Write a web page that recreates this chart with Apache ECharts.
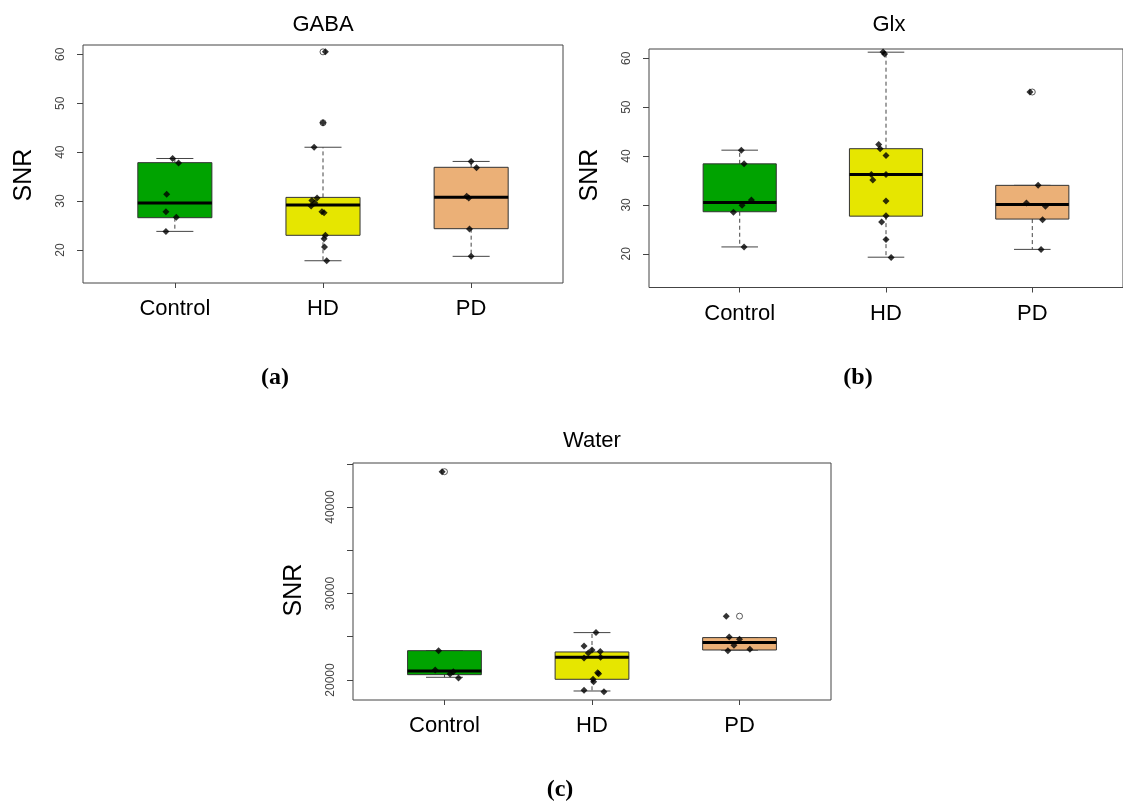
<!DOCTYPE html>
<html>
<head>
<meta charset="utf-8">
<script src="https://cdn.jsdelivr.net/npm/echarts@6/dist/echarts.min.js"></script>
<style>
  html, body { margin: 0; padding: 0; background: #fff; }
  #chart { width: 1123px; height: 807px; }
</style>
</head>
<body>
<div id="chart"></div>
<script>
// groups on the x axis
const groups = ["Control", "HD", "PD"];
const boxColors = ["#00A300", "#E6E600", "#EBB077"];

// GABA: box stats per group [low whisker, Q1, median, Q3, high whisker]
const gabaStats = [
  [23.8, 26.6, 29.6, 37.85, 38.7],
  [17.8, 23.0, 29.2, 30.75, 41.0],
  [18.7, 24.35, 30.8, 36.9, 38.1],
];
const gabaOutliers = [[], [60.5, 46.0], []];
const gabaPoints = [
  [38.7, 37.8, 31.4, 27.8, 26.7, 23.8],
  [60.5, 46.0, 41.0, 30.6, 30.1, 29.6, 29.0, 27.8, 27.6, 23.0, 22.3, 20.6, 17.8],
  [38.1, 36.8, 31.0, 30.6, 24.3, 18.7],
];
// horizontal jitter of each point, in category units
const gabaJitter = [
  [-0.015, 0.025, -0.055, -0.06, 0.01, -0.06],
  [0.016, 0, -0.06, -0.04, -0.075, -0.055, -0.08, -0.007, 0.007, 0.016, 0.007, 0.01, 0.025],
  [0, 0.036, -0.03, -0.016, -0.011, 0],
];

// Glx
const glxStats = [
  [21.4, 28.6, 30.5, 38.4, 41.2],
  [19.3, 27.7, 36.2, 41.5, 61.25],
  [20.9, 27.1, 30.1, 34.0, 34.0],
];
const glxOutliers = [[], [], [53.1]];
const glxPoints = [
  [41.2, 38.4, 31.0, 29.95, 28.5, 21.4],
  [61.3, 60.9, 42.35, 41.5, 40.1, 36.2, 36.2, 35.1, 30.8, 27.8, 26.5, 22.9, 19.25],
  [53.1, 34.0, 30.4, 29.75, 26.95, 20.9],
];
const glxJitter = [
  [0.011, 0.03, 0.08, 0.016, -0.043, 0.03],
  [-0.02, -0.01, -0.05, -0.04, 0, -0.1, 0, -0.09, 0, 0, -0.03, 0, 0.035],
  [-0.016, 0.04, -0.04, 0.09, 0.07, 0.06],
];

// Water
const waterStats = [
  [20310, 20615, 21040, 23390, 23390],
  [18726, 20080, 22630, 23240, 25480],
  [23450, 23470, 24320, 24900, 24900],
];
const waterOutliers = [[44090], [], [27380]];
const waterPoints = [
  [44090, 23390, 21160, 20960, 20695, 20230],
  [25480, 23940, 23475, 23280, 23130, 22630, 22550, 20830, 20720, 20080, 19800, 18810, 18650],
  [27380, 24980, 24710, 24020, 23550, 23390],
];
const waterJitter = [
  [-0.016, -0.04, -0.063, 0.06, 0.038, 0.095],
  [0.027, -0.054, 0, 0.056, -0.025, 0.058, -0.054, 0.038, 0.045, 0.007, 0.011, -0.054, 0.081],
  [-0.09, -0.07, 0, -0.038, 0.07, -0.079],
];

// axis ticks / labels
const snrTicks = [20, 30, 40, 50, 60];
const waterTicks = [20000, 25000, 30000, 35000, 40000, 45000];
const waterLabels = [20000, 30000, 40000];

const chart = echarts.init(document.getElementById("chart"), null, { renderer: "canvas" });

const FONT = "Liberation Sans, Arial, sans-serif";
const frameColor = "#444";

function renderBox(params, api) {
  const x = api.value(0);
  const lo = api.coord([x, api.value(1)]);
  const q1 = api.coord([x, api.value(2)]);
  const md = api.coord([x, api.value(3)]);
  const q3 = api.coord([x, api.value(4)]);
  const hi = api.coord([x, api.value(5)]);
  const half = api.size([0.25, 0])[0];
  const cap = api.size([0.125, 0])[0];
  const cx = md[0];
  const dash = { stroke: "#444", lineWidth: 1, lineDash: [4, 3] };
  const solid = { stroke: "#444", lineWidth: 1 };
  return {
    type: "group",
    children: [
      { type: "line", shape: { x1: cx, y1: q3[1], x2: cx, y2: hi[1] }, style: dash },
      { type: "line", shape: { x1: cx, y1: q1[1], x2: cx, y2: lo[1] }, style: dash },
      { type: "line", shape: { x1: cx - cap, y1: hi[1], x2: cx + cap, y2: hi[1] }, style: solid },
      { type: "line", shape: { x1: cx - cap, y1: lo[1], x2: cx + cap, y2: lo[1] }, style: solid },
      {
        type: "rect",
        shape: { x: cx - half, y: q3[1], width: half * 2, height: q1[1] - q3[1] },
        style: { fill: boxColors[params.dataIndex], stroke: "#333", lineWidth: 1 },
      },
      {
        type: "line",
        shape: { x1: cx - half, y1: md[1], x2: cx + half, y2: md[1] },
        style: { stroke: "#000", lineWidth: 3 },
      },
    ],
  };
}

function boxData(stats) {
  return stats.map((s, i) => [i + 1].concat(s));
}
function outlierData(outs) {
  const d = [];
  outs.forEach((vals, g) => vals.forEach((v) => d.push([g + 1, v])));
  return d;
}
function pointData(points, jitter) {
  const d = [];
  points.forEach((vals, g) => vals.forEach((v, i) => d.push([g + 1 + jitter[g][i], v])));
  return d;
}

function xAxis(gridIndex) {
  return {
    type: "value",
    gridIndex,
    min: 0.38,
    max: 3.62,
    axisLine: { show: false },
    splitLine: { show: false },
    axisTick: { show: true, length: 5, customValues: [1, 2, 3], lineStyle: { color: frameColor } },
    axisLabel: {
      customValues: [1, 2, 3],
      formatter: (v) => groups[Math.round(v) - 1],
      fontFamily: FONT,
      fontSize: 22,
      color: "#000",
      margin: 15,
    },
  };
}
function yAxis(gridIndex, min, max, ticks, labels) {
  return {
    type: "value",
    gridIndex,
    min,
    max,
    axisLine: { show: false },
    splitLine: { show: false },
    axisTick: { show: true, length: 6, customValues: ticks, lineStyle: { color: frameColor } },
    axisLabel: {
      customValues: labels,
      formatter: (v) => String(v),
      rotate: 90,
      fontFamily: FONT,
      fontSize: 12,
      color: "#444",
      margin: 16,
    },
  };
}

const panels = [
  { stats: gabaStats, outs: gabaOutliers, pts: gabaPoints, jit: gabaJitter },
  { stats: glxStats, outs: glxOutliers, pts: glxPoints, jit: glxJitter },
  { stats: waterStats, outs: waterOutliers, pts: waterPoints, jit: waterJitter },
];

const series = [];
panels.forEach((p, k) => {
  series.push({
    type: "custom",
    xAxisIndex: k,
    yAxisIndex: k,
    renderItem: renderBox,
    data: boxData(p.stats),
    z: 2,
    silent: true,
  });
  series.push({
    type: "scatter",
    xAxisIndex: k,
    yAxisIndex: k,
    symbol: "circle",
    symbolSize: 6,
    itemStyle: { color: "#fff", borderColor: "#333", borderWidth: 1 },
    data: outlierData(p.outs),
    z: 3,
    silent: true,
  });
  series.push({
    type: "scatter",
    xAxisIndex: k,
    yAxisIndex: k,
    symbol: "diamond",
    symbolSize: 7,
    itemStyle: { color: "#000" },
    data: pointData(p.pts, p.jit),
    z: 4,
    silent: true,
  });
});

function text(str, x, y, size, opts) {
  return Object.assign(
    {
      type: "text",
      x,
      y,
      style: {
        text: str,
        fontFamily: FONT,
        fontSize: size,
        fill: "#000",
        textAlign: "center",
        textVerticalAlign: "middle",
      },
    },
    opts || {}
  );
}
const serif = { fontFamily: "Liberation Serif, DejaVu Serif, serif", fontWeight: "bold" };
function label(str, x, y) {
  const t = text(str, x, y, 24);
  Object.assign(t.style, serif);
  return t;
}

const gridStyle = { show: true, borderColor: frameColor, borderWidth: 1, backgroundColor: "transparent" };

chart.setOption({
  animation: false,
  backgroundColor: "#fff",
  grid: [
    Object.assign({ left: 83, top: 45, width: 480, height: 238 }, gridStyle),
    Object.assign({ left: 649, top: 49, width: 481, height: 238.5 }, gridStyle),
    Object.assign({ left: 353, top: 463, width: 478, height: 237 }, gridStyle),
  ],
  xAxis: [xAxis(0), xAxis(1), xAxis(2)],
  yAxis: [
    yAxis(0, 13.25, 61.9, snrTicks, snrTicks),
    yAxis(1, 13.1, 61.9, snrTicks, snrTicks),
    yAxis(2, 17684, 45095, waterTicks, waterLabels),
  ],
  series,
  graphic: [
    text("GABA", 323, 25, 22),
    text("Glx", 889, 25, 22),
    text("Water", 592, 441, 22),
    text("SNR", 24, 175, 25, { rotation: Math.PI / 2 }),
    text("SNR", 590, 175, 25, { rotation: Math.PI / 2 }),
    text("SNR", 294, 590, 25, { rotation: Math.PI / 2 }),
    label("(a)", 275, 378),
    label("(b)", 858, 378),
    label("(c)", 560, 790),
  ],
});
</script>
</body>
</html>
